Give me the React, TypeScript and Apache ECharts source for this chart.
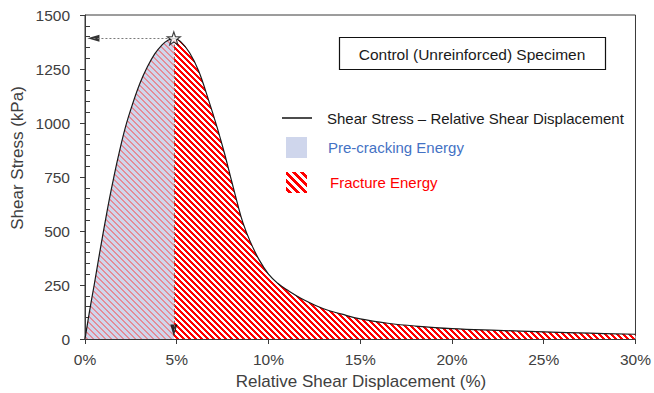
import React, { useEffect, useRef } from 'react';
import * as echarts from 'echarts';

// Relative shear displacement (%) and shear stress (kPa)
const displacement = [0, 0.25, 0.5, 0.8, 1.2, 1.5, 1.8, 2.2, 2.6, 3.0, 3.4, 3.8, 4.2, 4.5, 4.84, 5.2, 5.7, 6.2, 6.7, 7.2, 7.6, 8.0, 8.3, 8.6, 9.0, 9.5, 10.0, 10.5, 11.0, 12.0, 13.0, 14.0, 15.0, 16.5, 18, 20, 22.5, 25, 27.5, 30];
const stress = [0, 130, 250, 400, 590, 720, 840, 980, 1090, 1185, 1260, 1320, 1362, 1382, 1392, 1378, 1325, 1240, 1115, 980, 860, 728, 630, 540, 452, 365, 300, 258, 228, 178, 140, 115, 93, 73, 60, 48, 40, 33, 27, 22];
const peakDisplacement = 4.84;
const peakStress = 1392;
// arrow heads of the peak guide lines: [displacement, stress, rotation]
const arrowHeads = [
  [0.46, 1392, 90],
  [4.84, 39, 180],
];

const titleText = 'Control (Unreinforced) Specimen';
const legendLabels = ['Shear Stress \u2013 Relative Shear Displacement', 'Pre-cracking Energy', 'Fracture Energy'];
const xAxisTitle = 'Relative Shear Displacement (%)';
const yAxisTitle = 'Shear Stress (kPa)';

function makeStripes(size: number, width: number, bg: number[], fg: number[]) {
  const c = document.createElement('canvas');
  c.width = size;
  c.height = size;
  const ctx = c.getContext('2d')!;
  const img = ctx.createImageData(size, size);
  for (let j = 0; j < size; j++) {
    for (let i = 0; i < size; i++) {
      const d = (((i - j) % size) + size) % size;
      const on = d < width;
      const col = on ? fg : bg;
      const k = (j * size + i) * 4;
      img.data[k] = col[0];
      img.data[k + 1] = col[1];
      img.data[k + 2] = col[2];
      img.data[k + 3] = 255;
    }
  }
  ctx.putImageData(img, 0, 0);
  return { image: c, repeat: 'repeat', imageWidth: size, imageHeight: size } as any;
}

export default function App() {
  const ref = useRef<HTMLDivElement>(null);
  useEffect(() => {
    if (!ref.current) return;
    const chart = echarts.init(ref.current, null, { renderer: 'svg' });

    const redPattern = makeStripes(6, 3, [255, 255, 255], [255, 0, 0]);
    const bluePattern = makeStripes(6, 2, [207, 214, 236], [228, 140, 152]);
    const legendPattern = makeStripes(8, 4, [255, 255, 255], [255, 0, 0]);

    const all = displacement.map((x, i) => [x, stress[i]]);
    const pre = all.filter((p) => p[0] <= peakDisplacement);
    const frac = all.filter((p) => p[0] >= peakDisplacement);

    const textColor = '#404040';
    const font = 'Liberation Sans, Arial, sans-serif';
    const smooth = 0.4;

    chart.setOption({
      animation: false,
      backgroundColor: '#ffffff',
      grid: {
        left: 85,
        right: 17,
        top: 15,
        bottom: 54,
        show: true,
        borderColor: '#3a3a3a',
        borderWidth: 1,
        backgroundColor: 'transparent',
      },
      xAxis: {
        type: 'value',
        min: 0,
        max: 30,
        interval: 5,
        axisLine: { show: true, lineStyle: { color: '#3a3a3a', width: 1 } },
        axisTick: { show: true, inside: false, length: 5, lineStyle: { color: '#3a3a3a' } },
        axisLabel: { formatter: '{value}%', color: textColor, fontSize: 15.5, fontFamily: font, margin: 12 },
        splitLine: { show: false },
      },
      yAxis: {
        type: 'value',
        min: 0,
        max: 1500,
        interval: 250,
        axisLine: { show: true, lineStyle: { color: '#3a3a3a', width: 1 } },
        axisTick: { show: true, inside: false, length: 5, lineStyle: { color: '#3a3a3a' } },
        minorTick: { show: true, splitNumber: 5, length: -5, lineStyle: { color: '#3a3a3a' } },
        axisLabel: { formatter: (v: number) => String(v), color: textColor, fontSize: 15.5, fontFamily: font, margin: 15 },
        splitLine: { show: false },
      },
      series: [
        {
          name: 'Pre-cracking Energy',
          type: 'line',
          data: pre,
          smooth,
          symbol: 'none',
          lineStyle: { width: 0, opacity: 0 },
          areaStyle: { color: bluePattern, opacity: 1 },
          z: 1,
        },
        {
          name: 'Fracture Energy',
          type: 'line',
          data: frac,
          smooth,
          symbol: 'none',
          lineStyle: { width: 0, opacity: 0 },
          areaStyle: { color: redPattern, opacity: 1 },
          z: 1,
        },
        {
          name: 'Shear Stress',
          type: 'line',
          data: all,
          smooth,
          symbol: 'none',
          lineStyle: { color: '#1a1a1a', width: 1.2 },
          z: 3,
          markLine: {
            silent: true,
            animation: false,
            label: { show: false },
            lineStyle: { color: '#7a7a7a', type: [2, 2], width: 1 },
            symbol: ['none', 'none'],
            data: [
              [{ coord: [arrowHeads[0][0], peakStress] }, { coord: [peakDisplacement, peakStress] }],
              [{ coord: [peakDisplacement, arrowHeads[1][1]] }, { coord: [peakDisplacement, peakStress] }],
            ],
          },
        },
        {
          name: 'Arrows',
          type: 'scatter',
          data: arrowHeads.map((a) => ({ value: [a[0], a[1]], symbolRotate: a[2] })),
          symbol: 'triangle',
          symbolSize: [7, 12],
          itemStyle: { color: '#000' },
          z: 4,
        },
        {
          name: 'Peak',
          type: 'scatter',
          data: [[peakDisplacement, peakStress]],
          symbol: 'path://M0,-10 L2.35,-3.24 L9.51,-3.09 L3.8,1.24 L5.88,8.09 L0,4 L-5.88,8.09 L-3.8,1.24 L-9.51,-3.09 L-2.35,-3.24 Z',
          symbolSize: 13,
          itemStyle: { color: '#ffffff', borderColor: '#111', borderWidth: 1.2 },
          z: 5,
        },
      ],
      graphic: [
        {
          type: 'rect',
          shape: { x: 339.5, y: 37.5, width: 266, height: 32 },
          style: { fill: '#ffffff', stroke: '#111', lineWidth: 1.2 },
          z: 10,
        },
        {
          type: 'text',
          x: 472,
          y: 54,
          style: { text: titleText, fontSize: 15.5, fontFamily: font, fill: '#1a1a1a', align: 'center', verticalAlign: 'middle' },
          z: 11,
        },
        {
          type: 'line',
          shape: { x1: 282, y1: 118, x2: 312, y2: 118 },
          style: { stroke: '#111', lineWidth: 1.5 },
          z: 10,
        },
        {
          type: 'text',
          x: 327,
          y: 118,
          style: { text: legendLabels[0], fontSize: 15, fontFamily: font, fill: '#1a1a1a', verticalAlign: 'middle' },
          z: 10,
        },
        {
          type: 'rect',
          shape: { x: 286, y: 137, width: 21, height: 21 },
          style: { fill: '#cfd6ec' },
          z: 10,
        },
        {
          type: 'text',
          x: 328,
          y: 147,
          style: { text: legendLabels[1], fontSize: 15, fontFamily: font, fill: '#4472c4', verticalAlign: 'middle' },
          z: 10,
        },
        {
          type: 'rect',
          shape: { x: 286, y: 172, width: 21, height: 21 },
          style: { fill: legendPattern },
          z: 10,
        },
        {
          type: 'text',
          x: 330,
          y: 182,
          style: { text: legendLabels[2], fontSize: 15, fontFamily: font, fill: '#ff0000', verticalAlign: 'middle' },
          z: 10,
        },
        {
          type: 'text',
          x: 17,
          y: 158,
          rotation: Math.PI / 2,
          style: { text: yAxisTitle, fontSize: 17, fontFamily: font, fill: textColor, align: 'center', verticalAlign: 'middle' },
          z: 10,
        },
        {
          type: 'text',
          x: 361,
          y: 381,
          style: { text: xAxisTitle, fontSize: 17, fontFamily: font, fill: textColor, align: 'center', verticalAlign: 'middle' },
          z: 10,
        },
      ],
    });
    return () => chart.dispose();
  }, []);
  return <div ref={ref} style={{ position: 'fixed', left: 0, top: 0, width: 654, height: 393 }} />;
}
